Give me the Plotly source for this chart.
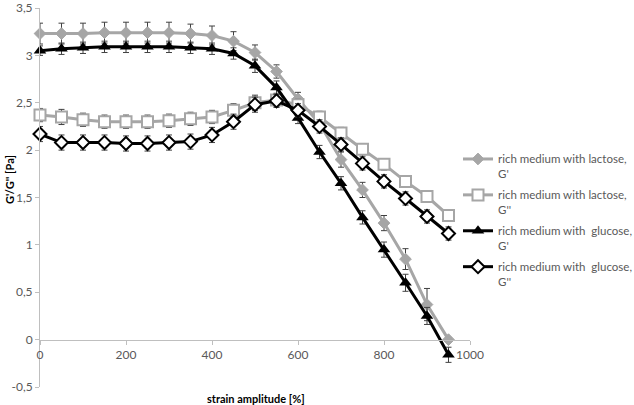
import plotly.graph_objects as go

strain = [0, 50, 100, 150, 200, 250, 300, 350, 400, 450, 500, 550, 600, 650, 700, 750, 800, 850, 900, 950]

lac_g1 = [3.23, 3.23, 3.23, 3.24, 3.24, 3.24, 3.24, 3.23, 3.21, 3.15, 3.03, 2.83, 2.54, 2.28, 1.90, 1.58, 1.23, 0.85, 0.37, 0.00]
lac_g1_err = [0.11, 0.11, 0.11, 0.11, 0.11, 0.11, 0.11, 0.10, 0.10, 0.10, 0.08, 0.07, 0.07, 0.07, 0.08, 0.08, 0.08, 0.11, 0.17, 0.02]

lac_g2 = [2.37, 2.35, 2.32, 2.30, 2.30, 2.30, 2.31, 2.33, 2.35, 2.42, 2.50, 2.53, 2.48, 2.35, 2.18, 2.01, 1.85, 1.67, 1.51, 1.31]
lac_g2_err = [0.07, 0.08, 0.07, 0.07, 0.07, 0.07, 0.07, 0.07, 0.07, 0.07, 0.08, 0.07, 0.06, 0.06, 0.06, 0.06, 0.06, 0.06, 0.06, 0.06]

glu_g1 = [3.05, 3.07, 3.08, 3.09, 3.09, 3.09, 3.09, 3.08, 3.07, 3.02, 2.89, 2.66, 2.34, 1.98, 1.65, 1.29, 0.95, 0.60, 0.25, -0.16]
glu_g1_err = [0.05, 0.06, 0.06, 0.06, 0.06, 0.06, 0.06, 0.06, 0.06, 0.06, 0.07, 0.07, 0.06, 0.07, 0.07, 0.07, 0.08, 0.09, 0.09, 0.08]

glu_g2 = [2.17, 2.08, 2.08, 2.08, 2.07, 2.07, 2.08, 2.09, 2.16, 2.30, 2.48, 2.52, 2.42, 2.25, 2.06, 1.86, 1.67, 1.49, 1.30, 1.12]
glu_g2_err = [0.08, 0.08, 0.08, 0.08, 0.08, 0.08, 0.08, 0.08, 0.08, 0.08, 0.08, 0.07, 0.07, 0.07, 0.07, 0.07, 0.07, 0.07, 0.07, 0.07]

names = ["rich medium with lactose,<br>G'", "rich medium with lactose,<br>G''",
         "rich medium with  glucose,<br>G'", "rich medium with  glucose,<br>G''"]

y_tickvals = [-0.5, 0, 0.5, 1, 1.5, 2, 2.5, 3, 3.5]
y_ticktext = ["-0,5", "0", "0,5", "1", "1,5", "2", "2,5", "3", "3,5"]
x_tickvals = [0, 200, 400, 600, 800, 1000]
x_ticktext = ["0", "200", "400", "600", "800", "1000"]

GRAY = "#a6a6a6"
ERR = "#404040"
FONT = "Lato"

W, H = 634, 405
ML, MR, MT, MB = 40, 164, 8, 18
pw, ph = W - ML - MR, H - MT - MB

def err(arr):
    return dict(type="data", array=arr, visible=True, color=ERR, thickness=1, width=3)

fig = go.Figure()
fig.add_trace(go.Scatter(x=strain, y=lac_g1, name=names[0], mode="lines+markers", legendgroup="a",
                         line=dict(color=GRAY, width=3),
                         marker=dict(symbol="diamond", size=9, color=GRAY, line=dict(color=GRAY, width=1)),
                         error_y=err(lac_g1_err), cliponaxis=False))
fig.add_trace(go.Scatter(x=strain, y=lac_g2, name=names[1], mode="lines+markers", legendgroup="b",
                         line=dict(color=GRAY, width=3),
                         marker=dict(symbol="square", size=11, color="white", line=dict(color=GRAY, width=2)),
                         error_y=err(lac_g2_err), cliponaxis=False))
fig.add_trace(go.Scatter(x=strain, y=glu_g1, name=names[2], mode="lines+markers", legendgroup="c",
                         line=dict(color="black", width=3),
                         marker=dict(symbol="triangle-up", size=11, color="black"),
                         error_y=err(glu_g1_err), cliponaxis=False))
fig.add_trace(go.Scatter(x=strain, y=glu_g2, name=names[3], mode="lines+markers", legendgroup="d",
                         line=dict(color="black", width=3),
                         marker=dict(symbol="diamond", size=10, color="white", line=dict(color="black", width=2)),
                         error_y=err(glu_g2_err), cliponaxis=False))

fig.update_layout(
    width=W, height=H,
    margin=dict(l=ML, r=MR, t=MT, b=MB, autoexpand=False),
    paper_bgcolor="white", plot_bgcolor="white",
    font=dict(family=FONT, size=12, color="#595959"),
    showlegend=True,
    legend=dict(xref="container", yref="container", x=458 / W, xanchor="left",
                y=1 - 145 / H, yanchor="top", valign="top",
                font=dict(family=FONT, size=11.5, color="#595959"),
                itemwidth=30, tracegroupgap=3, bgcolor="rgba(0,0,0,0)"),
    xaxis=dict(range=[0, 1000], tickvals=x_tickvals, ticktext=x_ticktext, automargin=False,
               showgrid=False, zeroline=False, showline=True, linecolor="#bfbfbf", linewidth=1,
               ticks="outside", ticklen=4, tickcolor="#bfbfbf",
               anchor="free", position=0.125, tickfont=dict(size=12, color="#595959")),
    yaxis=dict(range=[-0.5, 3.5], tickvals=y_tickvals, ticktext=y_ticktext, automargin=False,
               showgrid=False, zeroline=False, showline=True, linecolor="#bfbfbf", linewidth=1,
               ticks="outside", ticklen=4, tickcolor="#bfbfbf", domain=[0, 1],
               tickfont=dict(size=12, color="#595959")),
    annotations=[
        dict(text="<b>strain amplitude [%]</b>", xref="paper", yref="paper",
             x=(256 - ML) / pw, y=(H - MB - 398) / ph, xanchor="center", yanchor="middle",
             showarrow=False, font=dict(size=11, color="black", family=FONT)),
        dict(text="<b>G'/G'' [Pa]</b>", textangle=-90, xref="paper", yref="paper",
             x=(10 - ML) / pw, y=(H - MB - 180) / ph, xanchor="center", yanchor="middle",
             showarrow=False, font=dict(size=11, color="black", family=FONT)),
    ],
)

fig.write_html("out.html", config={"displayModeBar": False},
               post_script="document.body.style.margin='0';")
